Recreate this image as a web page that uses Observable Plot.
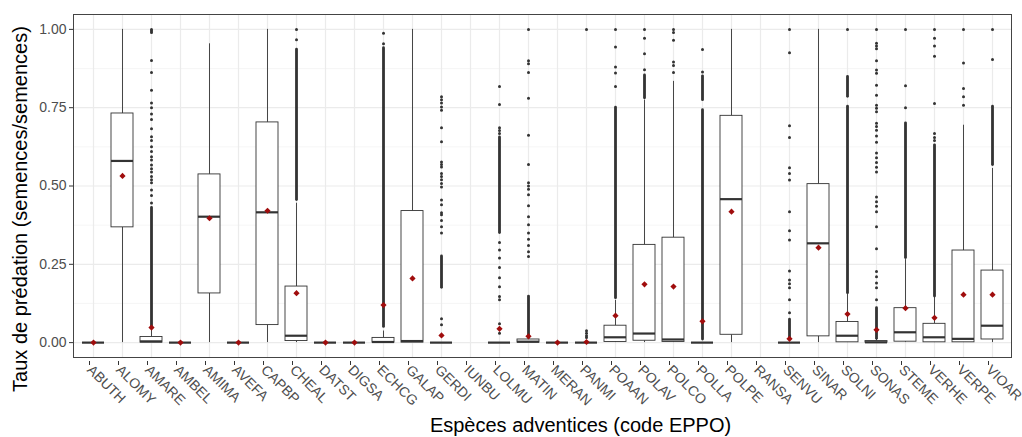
<!DOCTYPE html>
<html>
<head>
<meta charset="utf-8">
<script src="https://cdn.jsdelivr.net/npm/d3@7"></script>
<script src="https://cdn.jsdelivr.net/npm/@observablehq/plot@0.6"></script>
<style>
  html, body { margin: 0; padding: 0; background: white; }
</style>
</head>
<body>
<div id="chart"></div>
<script>
const species = ["ABUTH","ALOMY","AMARE","AMBEL","AMIMA","AVEFA","CAPBP","CHEAL","DATST","DIGSA","ECHCG","GALAP","GERDI","IUNBU","LOLMU","MATIN","MERAN","PANMI","POAAN","POLAV","POLCO","POLLA","POLPE","RANSA","SENVU","SINAR","SOLNI","SONAS","STEME","VERHE","VERPE","VIOAR"];

const q1      = [0, .368, 0, 0, .157, 0, .056, .005, 0, 0, 0, 0, 0, null, 0, 0, 0, 0, .002, .006, .002, 0, .025, null, 0, .02, .001, 0, .003, .001, .001, .01];
const medians = [0, .58, .004, 0, .402, 0, .416, .022, 0, 0, .002, .005, 0, null, 0, .003, 0, 0, .017, .029, .01, 0, .458, null, 0, .317, .022, .001, .033, .017, .012, .054];
const q3      = [0, .7315, .018, 0, .537, 0, .703, .179, 0, 0, .015, .42, 0, null, 0, .01, 0, 0, .054, .312, .335, 0, .724, null, 0, .506, .066, .005, .11, .06, .294, .23];
const whiskLo = [0, 0, 0, 0, 0, 0, 0, 0, 0, 0, 0, 0, 0, null, 0, 0, 0, 0, 0, 0, 0, 0, 0, null, 0, 0, 0, 0, 0, 0, 0, 0];
const whiskHi = [0, 1, .045, 0, .954, 0, 1, .445, 0, 0, .037, 1, 0, null, 0, .015, 0, 0, .135, .774, .834, 0, 1, null, 0, 1, .155, .012, .265, .145, .694, .556];
const means   = [0, .532, .048, 0, .397, 0, .421, .158, 0, 0, .12, .205, .023, null, .044, .02, 0, .002, .086, .186, .179, .068, .418, null, .012, .303, .091, .041, .11, .079, .153, .153];

// individual outliers (values) per species
const outliers = {
  AMARE: [1, .995, .99, .901, .862, .806, .765, .75, .73, .712, .683, .657, .645, .625, .61, .593, .583, .567, .555, .545, .53, .52, .51, .487, .47, .446],
  CHEAL: [1, .967],
  ECHCG: [.988, .954],
  GERDI: [.785, .775, .765, .752, .742, .686, .641, .577, .569, .561, .54, .53, .52, .508, .497, .455, .44, .415, .408, .39, .37, .35, .076, .057],
  LOLMU: [.818, .76, .686, .677, .668, .32, .296, .27, .24, .207, .178, .147, .137, .06, .03],
  MATIN: [1, .9, .89, .862, .78, .662, .569, .51, .5, .49, .472, .437, .402, .376, .35, .33, .31, .29, .275],
  PANMI: [1, .038, .03, .022, .016],
  POAAN: [1, .944, .88, .861, .818],
  POLAV: [1, .972, .922, .871],
  POLCO: [1, .99, .965, .896, .885, .862],
  POLLA: [.936, .864],
  SENVU: [1, .925, .692, .655, .558, .54, .519, .418, .357, .328, .229, .2, .188, .175, .137, .095],
  SOLNI: [1],
  SONAS: [1, .956, .947, .938, .9, .87, .86, .822, .79, .758, .748, .737, .7, .69, .678, .66, .64, .605, .59, .575, .56, .545, .465, .45, .435, .418, .37, .3, .227, .21, .19, .175, .137],
  STEME: [1, .82, .75],
  VERHE: [1, .972, .947, .914, .763, .668, .655, .645],
  VERPE: [1, .893, .811, .785, .758],
  VIOAR: [1, .904]
};

// ranges where outliers overlap into a continuous column
const denseRuns = {
  AMARE: [[.05, .43]],
  CHEAL: [[.455, .935]],
  ECHCG: [[.05, .94]],
  GERDI: [[.175, .275]],
  LOLMU: [[.35, .655]],
  MATIN: [[.015, .147]],
  POAAN: [[.142, .75]],
  POLAV: [[.78, .853]],
  POLLA: [[.774, .85], [.01, .742]],
  SENVU: [[.01, .073]],
  SOLNI: [[.785, .848], [.158, .753]],
  SONAS: [[.012, .11]],
  STEME: [[.27, .70]],
  VERHE: [[.147, .63]],
  VIOAR: [[.567, .753]]
};

const yTicks = [0, 0.25, 0.5, 0.75, 1];
const yMinor = [0.125, 0.375, 0.625, 0.875];
const xTitle = "Espèces adventices (code EPPO)";
const yTitle = "Taux de prédation (semences/semences)";

const boxes = species.map((sp, i) => ({sp, q1: q1[i], med: medians[i], q3: q3[i], lo: whiskLo[i], hi: whiskHi[i], mean: means[i]}))
  .filter(d => d.q1 != null);
const outDots = Object.entries(outliers).flatMap(([sp, vals]) => vals.map(v => ({sp, v})));
const runs = Object.entries(denseRuns).flatMap(([sp, rs]) => rs.map(([lo, hi]) => ({sp, lo, hi})));

const ink = "#333333";
const plot = Plot.plot({
  width: 1022,
  height: 437,
  marginLeft: 73,
  marginRight: 11,
  marginTop: 14,
  marginBottom: 80,
  style: {fontFamily: "'Liberation Sans', Arial, sans-serif", fontSize: "14px", background: "white"},
  x: {type: "band", domain: species, paddingInner: 0.25, paddingOuter: 0.225, align: 0.5},
  y: {domain: [-0.0475, 1.0475]},
  marks: [
    Plot.gridY({ticks: yMinor, stroke: "#f2f2f2", strokeOpacity: 1, strokeWidth: 0.7}),
    Plot.gridY({ticks: yTicks, stroke: "#ebebeb", strokeOpacity: 1, strokeWidth: 1.2}),
    Plot.gridX({stroke: "#ebebeb", strokeOpacity: 1, strokeWidth: 1.2}),
    Plot.ruleX(boxes, {x: "sp", y1: "lo", y2: "q1", stroke: ink, strokeWidth: 0.9}),
    Plot.ruleX(boxes, {x: "sp", y1: "q3", y2: "hi", stroke: ink, strokeWidth: 0.9}),
    Plot.barY(boxes.filter(d => d.q3 > d.q1), {x: "sp", y1: "q1", y2: "q3", fill: "white", stroke: ink, strokeWidth: 0.9}),
    Plot.tickY(boxes, {x: "sp", y: "med", stroke: ink, strokeWidth: 2.2}),
    Plot.ruleX(runs, {x: "sp", y1: "lo", y2: "hi", stroke: ink, strokeWidth: 2.8, strokeLinecap: "round"}),
    Plot.dot(outDots, {x: "sp", y: "v", r: 1.5, fill: ink, stroke: "none"}),
    Plot.dot(boxes, {x: "sp", y: "mean", symbol: "diamond2", r: 2.8, fill: "#a00d0d", stroke: "none"}),
    Plot.frame({stroke: "#444", strokeWidth: 1}),
    Plot.axisY({ticks: yTicks, tickFormat: d3.format(".2f"), tickSize: 4, tickPadding: 3, label: null, fill: "#4d4d4d", stroke: "#333"}),
    Plot.axisX({tickRotate: 45, tickSize: 4, tickPadding: 2, dx: -4, dy: 4, label: null, fill: "#4d4d4d", stroke: "#333"}),
    Plot.text([xTitle], {frameAnchor: "bottom", dx: 38, dy: 68, text: d => d, fontSize: 20, fill: "black", lineAnchor: "middle", textAnchor: "middle"}),
    Plot.text([yTitle], {frameAnchor: "left", dx: -53, dy: 23, rotate: -90, text: d => d, fontSize: 20, fill: "black", lineAnchor: "middle", textAnchor: "middle"})
  ]
});
document.getElementById("chart").appendChild(plot);
</script>
</body>
</html>
